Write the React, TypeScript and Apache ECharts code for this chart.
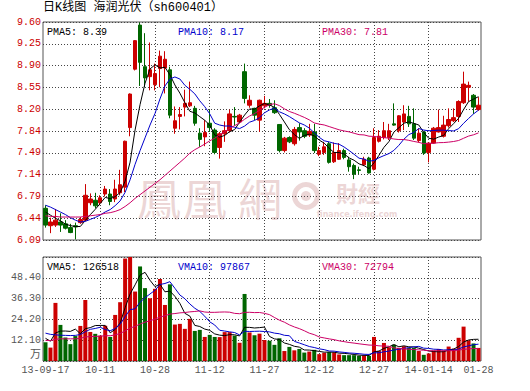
import React, { useEffect, useRef } from "react";
import * as echarts from "echarts";

// ---------- data ----------
const dates = [
  "2013-09-17","2013-09-18","2013-09-23","2013-09-24","2013-09-25","2013-09-26","2013-09-27","2013-09-30",
  "2013-10-08","2013-10-09","2013-10-10","2013-10-11","2013-10-14","2013-10-15","2013-10-16","2013-10-17","2013-10-18",
  "2013-10-21","2013-10-22","2013-10-23","2013-10-24","2013-10-25","2013-10-28","2013-10-29","2013-10-30","2013-10-31",
  "2013-11-01","2013-11-04","2013-11-05","2013-11-06","2013-11-07","2013-11-08","2013-11-11","2013-11-12","2013-11-13",
  "2013-11-14","2013-11-15","2013-11-18","2013-11-19","2013-11-20","2013-11-21","2013-11-22","2013-11-25","2013-11-26",
  "2013-11-27","2013-11-28","2013-11-29","2013-12-02","2013-12-03","2013-12-04","2013-12-05","2013-12-06","2013-12-09",
  "2013-12-10","2013-12-11","2013-12-12","2013-12-13","2013-12-16","2013-12-17","2013-12-18","2013-12-19","2013-12-20",
  "2013-12-23","2013-12-24","2013-12-25","2013-12-26","2013-12-27","2013-12-30","2013-12-31","2014-01-02","2014-01-03",
  "2014-01-06","2014-01-07","2014-01-08","2014-01-09","2014-01-10","2014-01-13","2014-01-14","2014-01-15","2014-01-16",
  "2014-01-17","2014-01-20","2014-01-21","2014-01-22","2014-01-23","2014-01-24","2014-01-27","2014-01-28"
];

const opens = [
  6.60,6.32,6.33,6.38,6.35,6.29,6.32,6.37,6.41,6.69,
  6.73,6.69,6.83,6.83,6.75,6.85,6.94,7.90,8.84,9.55,
  8.88,8.72,8.59,8.85,8.86,8.83,7.89,8.08,8.23,8.25,
  8.21,7.81,7.75,7.97,7.86,7.58,7.80,7.85,8.08,7.99,
  8.80,8.26,8.21,8.02,8.25,8.29,8.22,7.95,7.53,7.74,
  7.64,7.90,7.85,7.78,7.83,7.47,7.50,7.64,7.35,7.39,
  7.53,7.38,7.29,7.22,7.30,7.41,7.23,7.68,7.74,7.74,
  7.96,7.85,7.99,8.08,7.96,7.69,7.83,7.50,7.65,7.83,
  7.76,7.93,8.01,8.08,8.30,8.55,8.42,8.19
];
const closes = [
  6.33,6.38,6.41,6.33,6.28,6.21,6.30,6.42,6.81,6.75,
  6.64,6.77,6.91,6.71,6.91,6.98,7.68,8.44,9.30,8.95,
  8.70,8.83,8.77,9.05,9.00,8.10,8.01,8.11,8.29,8.30,
  7.97,7.71,7.82,7.90,7.50,7.80,7.85,8.12,8.07,8.10,
  8.37,8.34,8.10,8.34,8.29,8.26,8.14,7.53,7.73,7.67,
  7.87,7.83,7.76,7.84,7.53,7.53,7.59,7.34,7.50,7.53,
  7.42,7.27,7.15,7.21,7.39,7.17,7.74,7.76,7.85,7.85,
  7.94,8.09,8.12,7.96,7.73,7.81,7.49,7.65,7.89,7.90,
  7.94,8.03,8.06,8.32,8.60,8.58,8.23,8.26
];
const highs = [
  6.65,6.45,6.59,6.52,6.41,6.35,6.37,6.46,6.99,6.84,
  6.85,6.81,6.96,6.91,7.06,7.22,7.69,8.45,9.31,9.59,
  9.42,9.27,8.93,9.14,9.13,8.88,8.24,8.23,8.51,8.64,
  8.25,7.89,8.02,8.19,7.89,7.83,8.00,8.19,8.23,8.12,
  8.93,8.42,8.22,8.35,8.41,8.36,8.34,7.95,7.75,7.76,
  7.91,7.97,7.89,7.96,7.96,7.59,7.67,7.67,7.66,7.65,
  7.56,7.43,7.32,7.27,7.43,7.43,7.89,7.86,7.99,7.96,
  8.29,8.10,8.26,8.25,8.21,7.89,7.83,7.66,7.91,8.19,
  8.09,8.21,8.21,8.34,8.80,8.64,8.44,8.39
];
const lows = [
  6.29,6.20,6.30,6.22,6.26,6.20,6.10,6.35,6.39,6.65,
  6.60,6.65,6.79,6.65,6.70,6.81,6.86,7.76,8.82,8.57,
  8.55,8.50,8.50,8.55,8.45,8.05,7.80,7.87,8.08,8.23,
  7.93,7.59,7.60,7.83,7.47,7.40,7.67,7.82,7.93,7.97,
  8.29,8.22,8.02,7.83,8.21,8.22,8.12,7.50,7.50,7.65,
  7.61,7.69,7.73,7.75,7.49,7.44,7.46,7.32,7.33,7.38,
  7.39,7.19,7.07,7.15,7.28,7.16,7.21,7.66,7.71,7.70,
  7.93,7.82,7.86,7.91,7.70,7.66,7.46,7.34,7.64,7.82,
  7.74,7.90,7.99,7.99,8.28,8.32,8.12,8.17
];
// volume in 万
const volumes = [
  10.9,7.8,33.8,21.0,13.7,9.8,14.5,20.4,35.5,16.9,
  15.8,14.8,20.5,14.0,26.8,34.2,59.6,60.5,40.4,55.0,
  42.4,36.5,42.0,47.7,32.6,44.6,21.2,21.6,18.7,24.5,
  17.5,18.1,14.0,15.2,14.0,13.9,16.8,16.8,14.8,10.6,
  39.0,16.6,15.0,15.9,12.2,11.8,9.4,13.2,5.8,8.2,
  6.2,7.0,4.9,5.5,6.5,4.0,4.8,5.2,5.0,3.8,
  3.4,3.4,3.4,3.0,3.2,3.0,14.0,5.8,10.5,8.0,
  9.5,7.6,8.6,7.6,7.6,5.8,3.6,4.4,6.0,7.0,
  6.0,8.4,7.2,13.5,20.0,12.0,10.2,7.6
];

// moving-average values at the start (their windows reach before the first day)
const ma5Lead = [6.54,6.49,6.44,6.40];
const ma10Lead = [6.65,6.62,6.58,6.54,6.50,6.45,6.41,6.38,6.39];
const ma30Lead = [6.48,6.47,6.47,6.46,6.46,6.46,6.46,6.46,6.47,6.48,6.49,6.50,6.52,6.53,6.55,6.58,6.63,6.69,6.76,6.82,6.88,6.94,7.00,7.06,7.13,7.20,7.27,7.34,7.41];
const vma5Lead = [13.2,11.5,16.3,17.4];
const vma10Lead = [16.2,15.5,15.2,15.0,14.9,14.8,14.9,15.4,17.0];
const vma30Lead = [12.0,11.9,12.6,12.9,12.9,12.9,12.9,13.2,14.0,14.2,14.3,14.4,14.7,14.7,15.2,16.0,17.5,19.2,20.1,21.5,22.6,23.4,24.4,25.6,26.3,27.3,27.6,28.0,28.2];

const priceTicks = ["6.09","6.44","6.79","7.14","7.49","7.84","8.20","8.55","8.90","9.25","9.60"];
const volMin = 0;
const volMax = 60.5;
const volStep = 12.1;
const xTickIndex = [0, 11, 22, 33, 44, 55, 66, 77, 87];
const xTickLabels = ["13-09-17","10-11","10-28","11-12","11-27","12-12","12-27","14-01-14","01-28"];

const titleText = "日K线图 海润光伏（sh600401）";
const priceLegend = ["PMA5: 8.39", "PMA10: 8.17", "PMA30: 7.81"];
const volLegend = ["VMA5: 126518", "VMA10: 97867", "VMA30: 72794"];

// ---------- helpers ----------
function movingAverage(values: number[], n: number, lead: number[]) {
  return values.map((_, i) => {
    if (i < lead.length) return lead[i];
    let s = 0;
    for (let k = i - n + 1; k <= i; k++) s += values[k];
    return +(s / n).toFixed(3);
  });
}

const UP = "#cc0000";
const DOWN = "#006600";
const C5 = "#000000";
const C10 = "#0000cc";
const C30 = "#cc0066";
const MONO = "'Liberation Mono','DejaVu Sans Mono','Noto Sans CJK SC',monospace";
const GRID_LINE = { type: [1, 2] as any, color: "#444", width: 1 };

export default function App() {
  const ref = useRef<HTMLDivElement>(null);

  useEffect(() => {
    if (!ref.current) return;
    const chart = echarts.init(ref.current, undefined, { renderer: "svg" });

    const kData = dates.map((_, i) => [opens[i], closes[i], lows[i], highs[i]]);
    const volData = volumes.map((v, i) => ({
      value: v,
      itemStyle: { color: closes[i] > opens[i] ? UP : DOWN },
    }));
    const ma5 = movingAverage(closes, 5, ma5Lead);
    const ma10 = movingAverage(closes, 10, ma10Lead);
    const ma30 = movingAverage(closes, 30, ma30Lead);
    const vma5 = movingAverage(volumes, 5, vma5Lead);
    const vma10 = movingAverage(volumes, 10, vma10Lead);
    const vma30 = movingAverage(volumes, 30, vma30Lead);

    const inner = (i: number) => xTickIndex.indexOf(i) > 0 && i !== dates.length - 1;

    const lineSeries = (name: string, data: number[], color: string, xi: number, yi: number) => ({
      name,
      type: "line",
      xAxisIndex: xi,
      yAxisIndex: yi,
      data,
      symbol: "none",
      showSymbol: false,
      smooth: false,
      lineStyle: { color, width: 1 },
      z: 5,
    });

    const legendText = (text: string, x: number, y: number, color: string) => ({
      type: "text",
      x,
      y,
      z: 100,
      style: {
        text,
        fill: color,
        fontSize: 10,
        fontFamily: MONO,
        textVerticalAlign: "middle",
        verticalAlign: "middle",
      },
    });

    const wm = "#ecd6d6";
    const centered = { textAlign: "center", align: "center", textVerticalAlign: "middle", verticalAlign: "middle" };

    chart.setOption({
      animation: false,
      backgroundColor: "#ffffff",
      grid: [
        { left: 43, top: 22, width: 438, height: 218, show: true, borderColor: "#555", borderWidth: 1 },
        { left: 43, top: 257, width: 438, height: 104, show: true, borderColor: "#555", borderWidth: 1 },
      ],
      xAxis: [
        {
          type: "category",
          gridIndex: 0,
          data: dates,
          boundaryGap: true,
          axisLine: { show: false },
          axisTick: { show: false },
          axisLabel: { show: false },
          splitLine: { show: true, interval: (i: number) => inner(i), alignWithLabel: true, lineStyle: GRID_LINE },
        },
        {
          type: "category",
          gridIndex: 1,
          data: dates,
          boundaryGap: true,
          axisLine: { show: false },
          axisTick: { show: false },
          axisLabel: {
            show: true,
            interval: (i: number) => xTickIndex.indexOf(i) >= 0,
            formatter: (_v: string, i: number) => {
              const k = xTickIndex.indexOf(i);
              return k >= 0 ? xTickLabels[k] : "";
            },
            color: "#555",
            fontSize: 10,
            fontFamily: MONO,
            margin: 4,
          },
          splitLine: { show: true, interval: (i: number) => inner(i), alignWithLabel: true, lineStyle: GRID_LINE },
        },
      ],
      yAxis: [
        {
          type: "value",
          gridIndex: 0,
          min: 6.09,
          max: 9.6,
          show: false,
          splitLine: { show: false },
        },
        {
          type: "value",
          gridIndex: 0,
          position: "left",
          min: 0,
          max: priceTicks.length - 1,
          interval: 1,
          axisLine: { show: false },
          axisTick: { show: false },
          axisLabel: {
            formatter: (v: number) => priceTicks[Math.round(v)] ?? "",
            color: UP,
            fontSize: 10,
            fontFamily: MONO,
            margin: 2,
            showMinLabel: true,
            showMaxLabel: true,
          },
          splitLine: { show: true, lineStyle: GRID_LINE },
        },
        {
          type: "value",
          gridIndex: 1,
          position: "left",
          min: volMin,
          max: volMax,
          interval: volStep,
          axisLine: { show: false },
          axisTick: { show: false },
          axisLabel: {
            formatter: (v: number) => (v <= 0 || v >= volMax - 0.01 ? "" : v.toFixed(2)),
            color: "#555",
            fontSize: 10,
            fontFamily: MONO,
            margin: 2,
          },
          splitLine: { show: true, lineStyle: GRID_LINE },
        },
      ],
      graphic: [
        { type: "text", x: 159, y: 197, z: 0, style: { text: "鳳", fill: wm, fontSize: 44, fontFamily: "'Noto Sans CJK TC'", ...centered } },
        { type: "text", x: 205, y: 197, z: 0, style: { text: "凰", fill: wm, fontSize: 44, fontFamily: "'Noto Sans CJK TC'", ...centered } },
        { type: "text", x: 260, y: 197, z: 0, style: { text: "網", fill: wm, fontSize: 44, fontFamily: "'Noto Sans CJK TC'", ...centered } },
        { type: "ring", shape: { cx: 306, cy: 196, r: 14, r0: 9 }, z: 0, style: { fill: wm } },
        { type: "circle", shape: { cx: 306, cy: 196, r: 5 }, z: 0, style: { fill: wm } },
        { type: "text", x: 358, y: 192, z: 0, style: { text: "財經", fill: wm, fontSize: 22, fontFamily: "'Noto Sans CJK TC'", fontWeight: "bold", ...centered } },
        { type: "text", x: 357, y: 214, z: 0, style: { text: "finance.ifeng.com", fill: wm, fontSize: 8, fontFamily: "'DejaVu Sans'", fontWeight: "bold", ...centered } },
        {
          type: "text",
          x: 43,
          y: 8,
          z: 100,
          style: { text: titleText, fill: "#000", fontSize: 12, fontFamily: MONO, textVerticalAlign: "middle", verticalAlign: "middle" },
        },
        legendText(priceLegend[0], 47, 32, C5),
        legendText(priceLegend[1], 178, 32, C10),
        legendText(priceLegend[2], 322, 32, C30),
        legendText(volLegend[0], 47, 267, C5),
        legendText(volLegend[1], 178, 267, C10),
        legendText(volLegend[2], 322, 267, C30),
        {
          type: "text",
          x: 41,
          y: 353,
          z: 100,
          style: { text: "万", fill: "#555", fontSize: 11, fontFamily: "'Noto Sans CJK SC'", textAlign: "right", align: "right", textVerticalAlign: "middle", verticalAlign: "middle" },
        },
      ],
      series: [
        {
          name: "K",
          type: "candlestick",
          xAxisIndex: 0,
          yAxisIndex: 0,
          data: kData,
          barWidth: 4,
          itemStyle: { color: UP, color0: DOWN, borderColor: UP, borderColor0: DOWN, borderWidth: 1 },
          z: 3,
        },
        lineSeries("MA5", ma5, C5, 0, 0),
        lineSeries("MA10", ma10, C10, 0, 0),
        lineSeries("MA30", ma30, C30, 0, 0),
        {
          name: "VOL",
          type: "bar",
          xAxisIndex: 1,
          yAxisIndex: 2,
          data: volData,
          barWidth: 4,
          z: 3,
        },
        lineSeries("VMA5", vma5, C5, 1, 2),
        lineSeries("VMA10", vma10, C10, 1, 2),
        lineSeries("VMA30", vma30, C30, 1, 2),
      ],
    });

    return () => chart.dispose();
  }, []);

  return (
    <div
      ref={ref}
      style={{ position: "fixed", left: 0, top: 0, width: 530, height: 391, background: "#fff" }}
    />
  );
}
